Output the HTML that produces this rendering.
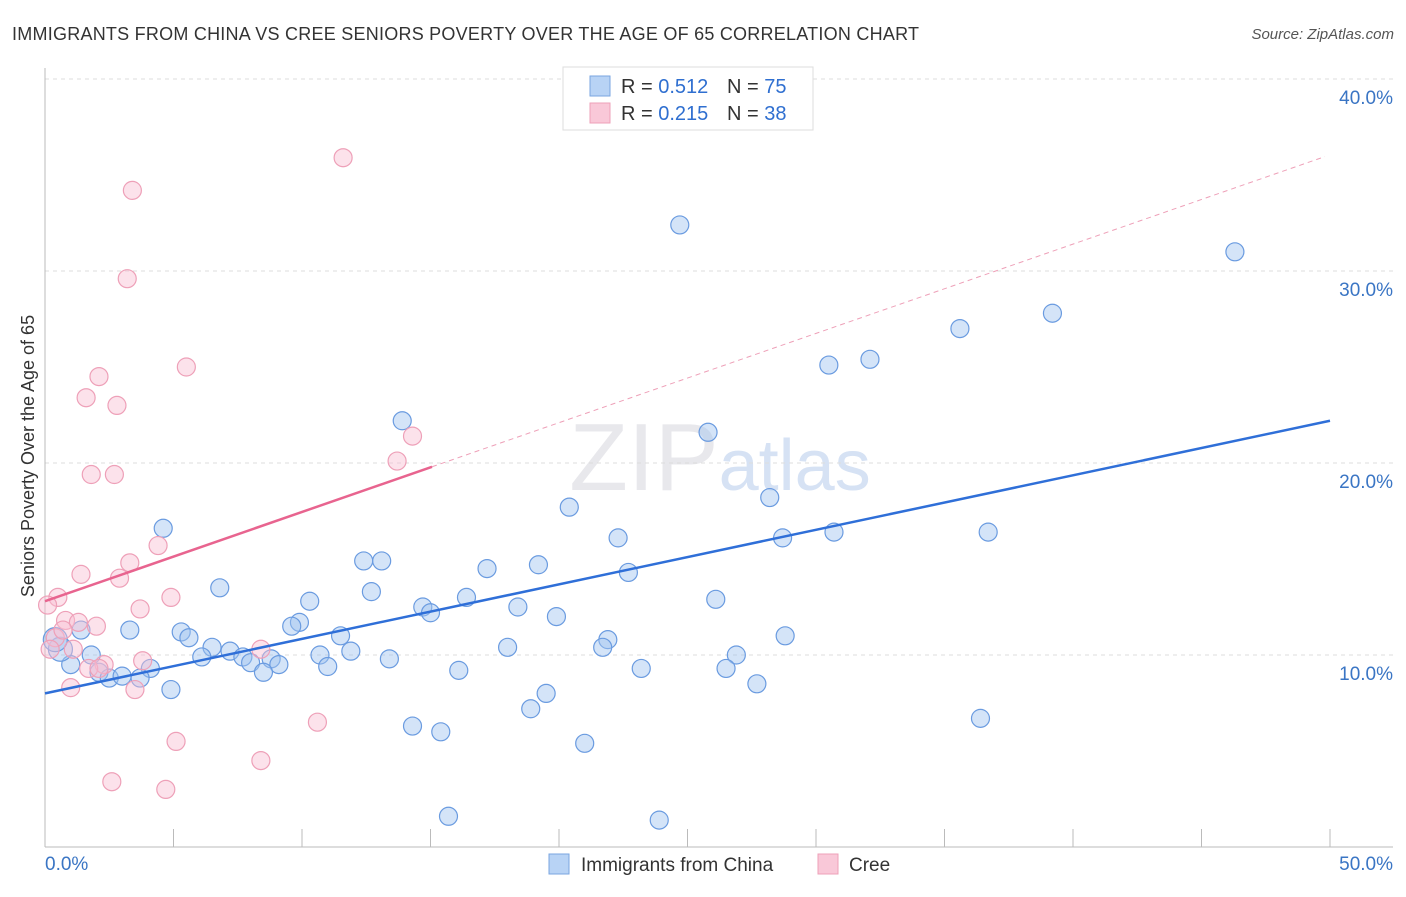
<!DOCTYPE html>
<html><head><meta charset="utf-8"><style>
body{margin:0;background:#fff;font-family:"Liberation Sans",sans-serif;}
svg text{font-family:"Liberation Sans",sans-serif;}
</style></head><body>
<svg id="chart" width="1406" height="892" xmlns="http://www.w3.org/2000/svg">
<text x="12" y="40" font-size="18" fill="#333" textLength="907">IMMIGRANTS FROM CHINA VS CREE SENIORS POVERTY OVER THE AGE OF 65 CORRELATION CHART</text>
<text x="1394" y="39" font-size="15" fill="#555" text-anchor="end" font-style="italic">Source: ZipAtlas.com</text>
<text x="720" y="490" font-size="96" fill="#e8e8ec" text-anchor="middle" font-family="Liberation Serif">ZIP<tspan fill="#d6e2f4" font-family="Liberation Sans" font-size="72">atlas</tspan></text>
<g id="grid"></g><g id="marks"></g><g id="lines"></g>
<text transform="translate(34,456) rotate(-90)" font-size="18" fill="#333" text-anchor="middle">Seniors Poverty Over the Age of 65</text>
<g>
<rect x="563" y="67" width="250" height="63" fill="#fff" stroke="#ddd"/>
<rect x="590" y="76" width="20" height="20" fill="#b8d3f5" stroke="#7aa6e0"/>
<rect x="590" y="103" width="20" height="20" fill="#f9c8d8" stroke="#eea0b8"/>
<text x="621" y="93" font-size="20" fill="#333">R = <tspan fill="#2f6fd0">0.512</tspan></text>
<text x="727" y="93" font-size="20" fill="#333">N = <tspan fill="#2f6fd0">75</tspan></text>
<text x="621" y="120" font-size="20" fill="#333">R = <tspan fill="#2f6fd0">0.215</tspan></text>
<text x="727" y="120" font-size="20" fill="#333">N = <tspan fill="#2f6fd0">38</tspan></text>
</g>
<g>
<rect x="549" y="854" width="20" height="20" fill="#b8d3f5" stroke="#7aa6e0"/>
<text x="581" y="871" font-size="19" fill="#333">Immigrants from China</text>
<rect x="818" y="854" width="20" height="20" fill="#f9c8d8" stroke="#eea0b8"/>
<text x="849" y="871" font-size="19" fill="#333">Cree</text>
</g>
</svg>
<script>
const chinaX=[13.9,24.7,46.3,39.2,35.6,32.1,30.5,25.8,28.2,20.4,4.6,36.7,30.7,28.7,22.3,12.4,13.1,19.2,17.2,22.7,6.8,12.7,16.4,10.3,14.7,15.0,18.4,26.1,19.9,9.9,9.6,3.3,1.4,5.3,5.6,11.5,28.8,21.9,21.7,18.0,6.5,7.2,6.1,11.9,10.7,7.7,8.8,8.0,9.1,13.4,26.9,1.8,1.0,0.6,11.0,4.1,23.2,26.5,16.1,2.1,2.5,3.0,3.7,8.5,4.9,27.7,19.5,18.9,14.3,15.4,36.4,21.0,15.7,23.9,0.4];
const chinaY=[22.2,32.4,31.0,27.8,27.0,25.4,25.1,21.6,18.2,17.7,16.6,16.4,16.4,16.1,16.1,14.9,14.9,14.7,14.5,14.3,13.5,13.3,13.0,12.8,12.5,12.2,12.5,12.9,12.0,11.7,11.5,11.3,11.3,11.2,10.9,11.0,11.0,10.8,10.4,10.4,10.4,10.2,9.9,10.2,10.0,9.9,9.8,9.6,9.5,9.8,10.0,10.0,9.5,10.3,9.4,9.3,9.3,9.3,9.2,9.1,8.8,8.9,8.8,9.1,8.2,8.5,8.0,7.2,6.3,6.0,6.7,5.4,1.6,1.4,10.8];
const creeX=[11.6,3.4,3.2,5.5,2.1,1.6,2.8,14.3,13.7,1.8,2.7,4.4,3.3,1.4,2.9,4.9,3.7,0.5,0.1,0.8,1.3,2.0,0.4,1.1,2.3,1.7,8.4,3.8,3.5,1.0,10.6,5.1,8.4,2.6,4.7,0.2,0.7,2.1];
const creeY=[35.9,34.2,29.6,25.0,24.5,23.4,23.0,21.4,20.1,19.4,19.4,15.7,14.8,14.2,14.0,13.0,12.4,13.0,12.6,11.8,11.7,11.5,10.9,10.3,9.5,9.3,10.3,9.7,8.2,8.3,6.5,5.5,4.5,3.4,3.0,10.3,11.3,9.3];
const chinaTrend=[8.0,22.2];      // y at x=0 and x=50
const creeTrend=[12.8,0.465];     // intercept, slope; solid to 15.06
const yTicks=[10,20,30,40];
const yTickLabels=["10.0%","20.0%","30.0%","40.0%"];
const xTicks=[0,5,10,15,20,25,30,35,40,45,50];
const NS="http://www.w3.org/2000/svg";
const sx=v=>45+v*25.7, sy=v=>847-v*19.2;
function mk(parent,tag,attrs){const e=document.createElementNS(NS,tag);for(const k in attrs)e.setAttribute(k,attrs[k]);parent.appendChild(e);return e;}
const grid=document.getElementById('grid'),marks=document.getElementById('marks'),lines=document.getElementById('lines');
yTicks.forEach((t,i)=>{
 const l=mk(grid,'line',{x1:45,x2:1393,y1:sy(t),y2:sy(t),stroke:'#ddd','stroke-dasharray':'4 4'});
 
 
 const tx=mk(grid,'text',{x:1393,y:sy(t)+25,'font-size':19,fill:'#3a75c4','text-anchor':'end'});
 tx.textContent=yTickLabels[i];
 
 
});
const ax=mk(grid,'line',{x1:45,x2:45,y1:68,y2:847,stroke:'#bbb'});


const bx=mk(grid,'line',{x1:45,x2:1393,y1:847,y2:847,stroke:'#bbb'});


xTicks.forEach(t=>{const l=mk(grid,'line',{x1:sx(t),x2:sx(t),y1:829,y2:847,stroke:'#bbb'});
 
 });
const x0=mk(grid,'text',{x:45,y:870,'font-size':19,fill:'#3a75c4'});x0.textContent='0.0%';


const x1=mk(grid,'text',{x:1393,y:870,'font-size':19,fill:'#3a75c4','text-anchor':'end'});x1.textContent='50.0%';


chinaX.forEach((v,i)=>{const c=mk(marks,'circle',{cx:sx(v),cy:sy(chinaY[i]),r:v<1?12:9,fill:'rgba(160,196,240,0.45)',stroke:'#6a9be0','stroke-width':1.2});
 
 });
creeX.forEach((v,i)=>{const c=mk(marks,'circle',{cx:sx(v),cy:sy(creeY[i]),r:9,fill:'rgba(248,190,210,0.45)',stroke:'#eea0b8','stroke-width':1.2});
 
 });
const bl=mk(lines,'line',{x1:sx(0),y1:sy(chinaTrend[0]),x2:sx(50),y2:sy(chinaTrend[1]),stroke:'#2f6fd8','stroke-width':2.5});


const pl=mk(lines,'line',{x1:sx(0),y1:sy(creeTrend[0]),x2:sx(15.06),y2:sy(creeTrend[0]+creeTrend[1]*15.06),stroke:'#e8648f','stroke-width':2.5});


const pd=mk(lines,'line',{x1:sx(15.06),y1:sy(creeTrend[0]+creeTrend[1]*15.06),x2:sx(49.8),y2:sy(creeTrend[0]+creeTrend[1]*49.8),stroke:'#eea0b8','stroke-width':1,'stroke-dasharray':'5 4'});


</script>
</body></html>
